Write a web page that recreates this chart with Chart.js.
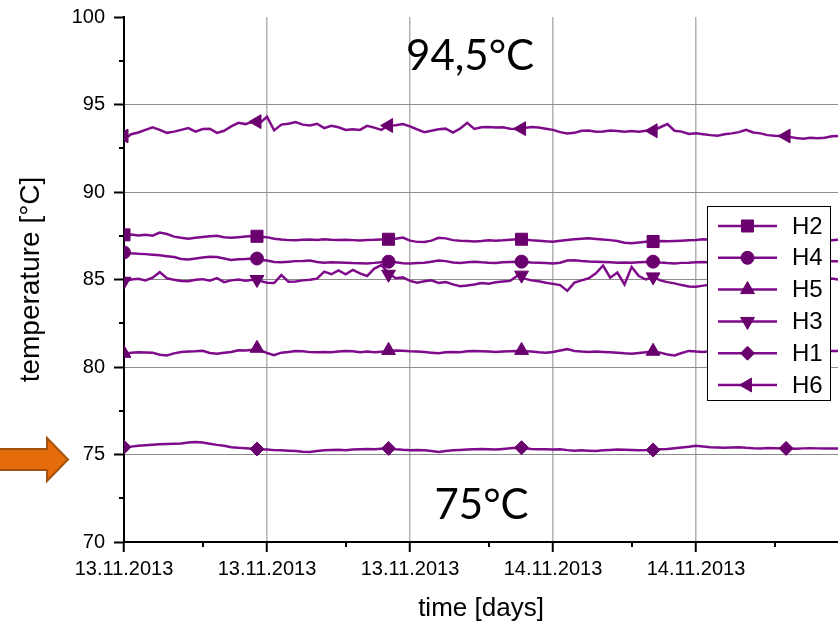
<!DOCTYPE html>
<html><head><meta charset="utf-8">
<script src="https://cdn.jsdelivr.net/npm/chart.js"></script>
<style>html,body{margin:0;padding:0;background:#fff;}canvas{display:block;}</style>
</head><body>
<canvas id="c" width="838" height="624"></canvas>
<script>
// ---------- data ----------
const timeDays = [0,0.05,0.1,0.15,0.2,0.25,0.3,0.35,0.4,0.45,0.5,0.55,0.6,0.65,0.7,0.75,0.8,0.85,0.9,0.95,
1,1.05,1.1,1.15,1.2,1.25,1.3,1.35,1.4,1.45,1.5,1.55,1.6,1.65,1.7,1.75,1.8,1.85,1.9,1.95,
2,2.05,2.1,2.15,2.2,2.25,2.3,2.35,2.4,2.45,2.5,2.55,2.6,2.65,2.7,2.75,2.8,2.85,2.9,2.95,
3,3.05,3.1,3.15,3.2,3.25,3.3,3.35,3.4,3.45,3.5,3.55,3.6,3.65,3.7,3.75,3.8,3.85,3.9,3.95,
4,4.05,4.1,4.15,4.2,4.25,4.3,4.35,4.4,4.45,4.5,4.55,4.6,4.65,4.7,4.75,4.8,4.85,4.9,4.95,4.993];

const seriesNames = ['H2','H4','H5','H3','H1','H6'];

const H2 = [87.55,87.57,87.52,87.56,87.5,87.68,87.6,87.45,87.38,87.33,
87.38,87.43,87.47,87.5,87.42,87.38,87.42,87.46,87.48,87.44,
87.42,87.33,87.28,87.25,87.24,87.27,87.28,87.26,87.3,87.27,
87.26,87.27,87.25,87.23,87.26,87.27,87.29,87.3,87.33,87.4,
87.22,87.15,87.14,87.22,87.38,87.35,87.25,87.22,87.2,87.17,
87.2,87.24,87.22,87.24,87.27,87.3,87.28,87.24,87.22,87.18,
87.16,87.22,87.26,87.3,87.33,87.36,87.32,87.28,87.25,87.2,
87.1,87.07,87.12,87.16,87.18,87.2,87.18,87.2,87.22,87.24,
87.26,87.3,87.27,87.24,87.22,87.25,87.28,87.26,87.23,87.22,
87.25,87.27,87.24,87.22,87.25,87.28,87.26,87.24,87.25,87.25,87.27];

const H4 = [86.58,86.5,86.47,86.45,86.42,86.38,86.33,86.28,86.17,86.15,
86.2,86.26,86.3,86.28,86.2,86.12,86.16,86.17,86.2,86.12,
86.08,86.0,85.98,86.02,86.05,86.06,86.08,86.0,85.96,85.98,
85.97,85.96,85.94,85.93,85.92,85.95,85.99,86.02,85.98,85.93,
85.92,85.94,85.96,86.02,86.08,86.05,85.97,85.95,85.98,86.01,
85.98,85.96,85.95,85.98,86.0,86.02,86.0,85.97,85.96,85.94,
85.92,85.96,86.08,86.1,86.06,86.03,86.02,86.0,85.98,85.96,
85.97,85.96,85.98,86.0,86.02,85.97,85.94,85.92,85.95,85.96,
85.98,86.0,85.97,85.95,85.98,86.01,86.0,85.97,85.96,85.99,
86.02,86.0,85.98,85.97,86.0,86.02,86.01,86.03,86.05,86.04,86.05];

const H5 = [80.75,80.82,80.84,80.83,80.82,80.7,80.66,80.78,80.86,80.88,
80.9,80.93,80.8,80.76,80.82,80.86,80.95,80.94,80.98,80.96,
80.8,80.68,80.82,80.86,80.92,80.9,80.85,80.84,80.86,80.84,
80.88,80.92,80.9,80.85,80.88,80.84,80.87,80.9,80.94,80.93,
80.9,80.88,80.86,80.82,80.78,80.84,80.86,80.85,80.9,80.92,
80.9,80.88,80.86,80.88,80.9,80.92,80.9,80.88,80.84,80.82,
80.86,80.94,81.02,80.92,80.88,80.86,80.88,80.86,80.84,80.82,
80.78,80.76,80.8,80.84,80.88,80.82,80.72,80.66,80.8,80.92,
80.88,80.86,80.9,80.88,80.85,80.87,80.9,80.88,80.86,80.9,
80.92,80.9,80.88,80.86,80.9,80.92,80.9,80.88,80.9,80.92,80.92];

const H3 = [84.88,85.0,85.04,84.95,85.1,85.42,85.07,84.98,84.92,84.9,
84.98,85.02,84.93,85.08,84.85,84.95,85.0,84.93,84.98,84.92,
84.82,84.8,85.25,84.87,84.88,84.95,84.98,85.05,85.45,85.3,
85.52,85.3,85.55,85.35,85.2,85.62,85.82,85.35,85.07,85.12,
84.92,84.82,84.9,84.95,84.8,84.86,84.72,84.62,84.66,84.72,
84.8,84.76,84.84,84.88,84.92,85.2,85.05,84.95,84.9,84.82,
84.75,84.68,84.35,84.82,84.95,85.07,85.35,85.8,85.1,85.4,
84.72,85.72,85.2,85.0,85.15,84.95,84.85,84.78,84.68,84.6,
84.58,84.65,84.7,84.62,84.75,84.8,84.72,84.85,84.9,84.82,
84.78,84.88,84.95,84.9,84.85,84.92,84.98,84.95,85.0,85.05,85.0];

const H1 = [75.42,75.45,75.5,75.53,75.56,75.58,75.6,75.62,75.63,75.68,
75.72,75.68,75.62,75.55,75.5,75.42,75.38,75.36,75.33,75.3,
75.28,75.25,75.24,75.22,75.2,75.16,75.14,75.2,75.24,75.26,
75.27,75.24,75.28,75.3,75.32,75.3,75.33,75.35,75.3,75.27,
75.25,75.26,75.24,75.2,75.15,75.2,75.24,75.26,75.28,75.3,
75.32,75.3,75.28,75.32,75.36,75.38,75.35,75.32,75.3,75.3,
75.28,75.3,75.25,75.22,75.24,75.22,75.2,75.24,75.26,75.28,
75.27,75.26,75.24,75.25,75.26,75.3,75.32,75.36,75.4,75.44,
75.5,75.46,75.42,75.4,75.38,75.4,75.42,75.38,75.36,75.35,
75.37,75.36,75.35,75.34,75.33,75.35,75.36,75.35,75.34,75.35,75.35];

const H6 = [93.0,93.3,93.4,93.55,93.7,93.55,93.38,93.45,93.55,93.65,
93.45,93.6,93.62,93.38,93.5,93.75,93.95,93.88,94.02,93.95,
94.3,93.52,93.85,93.9,94.0,93.85,93.8,93.9,93.65,93.78,
93.7,93.55,93.58,93.55,93.78,93.68,93.55,93.8,93.82,93.88,
93.75,93.58,93.42,93.5,93.58,93.62,93.4,93.62,93.95,93.6,
93.7,93.72,93.68,93.7,93.62,93.6,93.66,93.72,93.68,93.62,
93.55,93.42,93.35,93.38,93.5,93.52,93.45,93.46,93.52,93.48,
93.44,93.48,93.44,93.5,93.52,93.7,93.88,93.5,93.45,93.32,
93.35,93.3,93.25,93.22,93.3,93.35,93.42,93.55,93.4,93.35,
93.25,93.22,93.2,93.15,93.08,93.05,93.1,93.07,93.1,93.18,93.2];

const markerTimes = [0, 0.93, 1.85, 2.78, 3.7, 4.63];
const H2Markers = [87.55, 87.47, 87.3, 87.3, 87.17, 87.25];
const H4Markers = [86.55, 86.2, 86.02, 86.02, 86.02, 86.0];
const H5Markers = [80.78, 81.07, 80.95, 80.95, 80.9, 80.9];
const H3Markers = [84.9, 85.0, 85.3, 85.25, 85.15, 84.8];
const H1Markers = [75.42, 75.31, 75.35, 75.39, 75.26, 75.35];
const H6Markers = [93.2, 94.02, 93.8, 93.62, 93.5, 93.2];

const xTickValues = [0, 1, 2, 3, 4];
const xTickLabels = ['13.11.2013', '13.11.2013', '13.11.2013', '14.11.2013', '14.11.2013'];
const xMinorTicks = [0.555, 1.555, 2.555, 3.555, 4.555];
const yMinorTicks = [72.5, 77.5, 82.5, 87.5, 92.5, 97.5];
const xRange = [0, 4.993];
const yRange = [70, 100];

// ---------- styles ----------
const LINE = '#7e0b8a';
const MARK = '#6a006e';
const FONT = "'Liberation Sans', Arial, sans-serif";
const markerStyle = {
  H2: {pointStyle: 'rect', radius: 8.5, rotation: 0},
  H4: {pointStyle: 'circle', radius: 6.5, rotation: 0},
  H5: {pointStyle: 'triangle', radius: 8, rotation: 0},
  H3: {pointStyle: 'triangle', radius: 8, rotation: 180},
  H1: {pointStyle: 'rectRot', radius: 7, rotation: 0},
  H6: {pointStyle: 'triangle', radius: 8, rotation: -90}
};
const lineValues = {H2, H4, H5, H3, H1, H6};
const markerValues = {H2: H2Markers, H4: H4Markers, H5: H5Markers, H3: H3Markers, H1: H1Markers, H6: H6Markers};

const datasets = [];
seriesNames.forEach(n => {
  const st = markerStyle[n];
  datasets.push({
    label: n,
    data: markerTimes.map((t, i) => ({x: t, y: markerValues[n][i]})),
    showLine: false,
    pointStyle: st.pointStyle, pointRadius: st.radius, pointRotation: st.rotation,
    pointBackgroundColor: MARK, pointBorderColor: MARK, pointBorderWidth: 1,
    order: 0, clip: 0
  });
  datasets.push({
    label: n + ' line',
    data: timeDays.map((t, i) => ({x: t, y: lineValues[n][i]})),
    borderColor: LINE, borderWidth: 2.5, pointRadius: 0, tension: 0,
    order: 1
  });
});

const annotations = [
  {text: '94,5°C', x: 2.42, y: 96.97},
  {text: '75°C', x: 2.5, y: 71.31}
];

function drawMarker(ctx, st, px, py) {
  ctx.save();
  ctx.fillStyle = MARK; ctx.strokeStyle = MARK; ctx.lineWidth = 1;
  if (Chart.helpers && Chart.helpers.drawPoint) {
    Chart.helpers.drawPoint(ctx, {pointStyle: st.pointStyle, radius: st.radius, rotation: st.rotation, borderWidth: 1}, px, py);
  } else {
    ctx.beginPath(); ctx.arc(px, py, st.radius, 0, Math.PI * 2); ctx.fill();
  }
  ctx.restore();
}

const decor = {
  id: 'decor',
  afterDraw(chart) {
    const {ctx, chartArea} = chart;
    const xs = chart.scales.x, ys = chart.scales.y;
    ctx.save();
    // minor ticks
    ctx.strokeStyle = '#000'; ctx.lineWidth = 2;
    xMinorTicks.forEach(v => {
      const px = Math.round(xs.getPixelForValue(v));
      ctx.beginPath(); ctx.moveTo(px, chartArea.bottom); ctx.lineTo(px, chartArea.bottom + 5); ctx.stroke();
    });
    yMinorTicks.forEach(v => {
      const py = Math.round(ys.getPixelForValue(v));
      ctx.beginPath(); ctx.moveTo(chartArea.left, py); ctx.lineTo(chartArea.left - 5, py); ctx.stroke();
    });
    // annotation texts
    ctx.fillStyle = '#000';
    ctx.font = "42px Lato, 'Open Sans', sans-serif";
    ctx.textAlign = 'center'; ctx.textBaseline = 'alphabetic';
    annotations.forEach(a => ctx.fillText(a.text, xs.getPixelForValue(a.x), ys.getPixelForValue(a.y)));
    // orange arrow pointing at 75
    const ty = ys.getPixelForValue(75) + 5;
    ctx.beginPath();
    ctx.moveTo(-2, ty - 10.5);
    ctx.lineTo(47, ty - 10.5);
    ctx.lineTo(47, ty - 21.5);
    ctx.lineTo(68, ty);
    ctx.lineTo(47, ty + 21.5);
    ctx.lineTo(47, ty + 10.5);
    ctx.lineTo(-2, ty + 10.5);
    ctx.closePath();
    ctx.fillStyle = '#E46C0A'; ctx.fill();
    ctx.strokeStyle = '#A4520D'; ctx.lineWidth = 2; ctx.stroke();
    // legend
    const bx = 707.5, by = 206.5, bw = 123, bh = 194;
    ctx.fillStyle = '#fff'; ctx.fillRect(bx, by, bw, bh);
    ctx.strokeStyle = '#000'; ctx.lineWidth = 1; ctx.strokeRect(bx, by, bw, bh);
    ctx.font = '24px ' + FONT; ctx.textAlign = 'left'; ctx.textBaseline = 'middle';
    seriesNames.forEach((n, i) => {
      const ly = 226 + i * 31.8;
      ctx.strokeStyle = LINE; ctx.lineWidth = 2.5;
      ctx.beginPath(); ctx.moveTo(718, ly); ctx.lineTo(777, ly); ctx.stroke();
      drawMarker(ctx, markerStyle[n], 747.5, ly);
      ctx.fillStyle = '#000';
      ctx.fillText(n, 792, ly + 1);
    });
    ctx.restore();
  }
};

new Chart(document.getElementById('c'), {
  type: 'line',
  data: {datasets},
  options: {
    responsive: false, animation: false, devicePixelRatio: 1, events: [],
    layout: {autoPadding: false, padding: {top: 17, right: 0, bottom: 0, left: 0}},
    plugins: {legend: {display: false}, tooltip: {enabled: false}},
    scales: {
      x: {
        type: 'linear', min: xRange[0], max: xRange[1],
        afterBuildTicks: s => { s.ticks = xTickValues.map(v => ({value: v})); },
        afterFit: s => { s.height = 82; s.paddingLeft = 0; s.paddingRight = 0; },
        ticks: {
          autoSkip: false, maxRotation: 0, padding: 5, color: '#000',
          font: {family: FONT, size: 20},
          callback: v => { const k = xTickValues.indexOf(v); return k >= 0 ? xTickLabels[k] : ''; }
        },
        grid: {
          color: c => (c.tick && c.tick.value === 0) ? 'rgba(0,0,0,0)' : '#b2b2b2',
          lineWidth: 1.5, tickColor: '#000', tickLength: 10, tickWidth: 2, drawTicks: true
        },
        border: {display: true, color: '#000', width: 2},
        title: {display: true, text: 'time [days]', color: '#000', font: {family: FONT, size: 26}, padding: {top: 0, bottom: 0}}
      },
      y: {
        type: 'linear', min: yRange[0], max: yRange[1],
        afterFit: s => { s.width = 124; s.paddingTop = 0; s.paddingBottom = 0; },
        ticks: {stepSize: 5, padding: 9, color: '#000', font: {family: FONT, size: 20}},
        grid: {
          color: c => (c.tick && (c.tick.value === 70 || c.tick.value === 100)) ? 'rgba(0,0,0,0)' : '#8c8c8c',
          lineWidth: 1, tickColor: '#000', tickLength: 10, tickWidth: 2, drawTicks: true
        },
        border: {display: true, color: '#000', width: 2},
        title: {display: true, text: 'temperature [°C]', color: '#000', font: {family: FONT, size: 28}, padding: {top: 14, bottom: 0}}
      }
    }
  },
  plugins: [decor]
});
</script>
</body></html>
